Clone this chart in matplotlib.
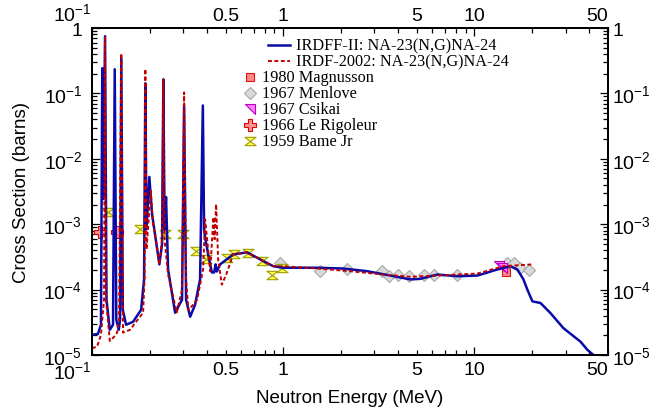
import matplotlib
matplotlib.use('Agg')
import matplotlib.pyplot as plt
from matplotlib.ticker import FixedLocator, FixedFormatter
from matplotlib.lines import Line2D
from matplotlib.path import Path

plt.rcParams['font.family'] = ['Liberation Sans', 'DejaVu Sans']
plt.rcParams['mathtext.fontset'] = 'custom'
plt.rcParams['mathtext.rm'] = 'Liberation Sans'
plt.rcParams['mathtext.default'] = 'regular'

# ---------------- data ----------------
irdff_e = [0.100, 0.1074, 0.1114, 0.1132, 0.1146, 0.1170, 0.1191, 0.1239, 0.1288, 0.1315,
           0.1340, 0.1380, 0.1402, 0.1423, 0.1449, 0.1507, 0.1640, 0.1807, 0.1872, 0.1901,
           0.1928, 0.1995, 0.2061, 0.2136, 0.2251, 0.2325, 0.2362, 0.2397, 0.2439, 0.2500,
           0.2721, 0.2958, 0.3032, 0.3105, 0.3261, 0.3461, 0.3675, 0.3800, 0.3857, 0.3905,
           0.4050, 0.4236, 0.4355, 0.4431, 0.4496, 0.4679, 0.5475, 0.6484, 0.7579, 0.8868,
           1.0, 1.507, 2.061, 2.753, 3.633, 4.623, 5.212, 6.402, 8.145, 10.37,
           13.19, 15.43, 16.79, 18.06, 18.93, 20.12, 22.17, 25.0, 29.2, 35.9,
           39.1, 42.0, 50.0]
irdff_xs = [2.03e-5, 2.10e-5, 2.90e-5, 0.243, 2.43e-3, 0.75, 7.0e-5, 2.43e-5, 2.90e-5, 0.234,
            3.45e-5, 2.43e-5, 3.45e-5, 0.345, 4.92e-5, 2.90e-5, 3.22e-5, 4.92e-5, 1.43e-4, 0.143,
            8.4e-4, 5.28e-3, 1.43e-3, 7.0e-4, 2.43e-4, 4.92e-4, 0.164, 8.4e-4, 2.60e-3, 2.03e-4,
            4.43e-5, 7.0e-5, 0.0654, 7.0e-5, 3.84e-5, 5.88e-5, 1.43e-4, 0.0654, 8.4e-4, 6.31e-4,
            3.45e-4, 1.83e-4, 1.83e-4, 2.43e-4, 1.89e-4, 2.43e-4, 3.45e-4, 3.71e-4, 2.90e-4, 2.28e-4,
            2.16e-4, 2.16e-4, 2.10e-4, 1.91e-4, 1.64e-4, 1.43e-4, 1.46e-4, 1.70e-4, 1.60e-4, 1.64e-4,
            2.03e-4, 2.28e-4, 2.03e-4, 1.43e-4, 1.0e-4, 6.61e-5, 6.24e-5, 4.38e-5, 2.58e-5, 1.60e-5,
            1.19e-5, 1.0e-5, 7.5e-6]

irdf_e = [0.100, 0.1062, 0.1114, 0.1156, 0.1170, 0.1184, 0.1239, 0.1303, 0.1352, 0.1385,
          0.1423, 0.1453, 0.1581, 0.1850, 0.1883, 0.1901, 0.1928, 0.2029, 0.2085, 0.2136,
          0.2251, 0.2325, 0.2362, 0.2397, 0.2500, 0.2776, 0.2958, 0.3032, 0.3105, 0.3193,
          0.3546, 0.3811, 0.3905, 0.4025, 0.4150, 0.4318, 0.4379, 0.4458, 0.4568, 0.4777,
          0.5033, 0.5475, 0.6484, 0.7579, 0.8868, 1.0, 1.507, 2.243, 3.339, 4.623,
          6.402, 10.37, 14.19, 20.12]
irdf_xs = [1.28e-5, 1.33e-5, 2.03e-5, 7.0e-5, 0.72, 7.0e-5, 1.64e-5, 1.89e-5, 2.18e-5, 3.45e-5,
           0.41, 2.20e-5, 2.43e-5, 4.43e-5, 1.43e-4, 0.236, 4.12e-4, 3.25e-3, 1.0e-3, 7.0e-4,
           2.43e-4, 5.88e-4, 0.164, 5.88e-4, 1.70e-4, 4.48e-5, 1.0e-4, 0.1036, 1.43e-4, 4.81e-5,
           7.0e-5, 2.03e-4, 1.19e-3, 4.92e-4, 1.91e-4, 1.28e-3, 5.88e-4, 2.03e-3, 2.90e-4, 1.19e-4,
           1.70e-4, 3.45e-4, 3.71e-4, 2.90e-4, 2.28e-4, 2.28e-4, 2.10e-4, 1.91e-4, 1.70e-4, 1.57e-4,
           1.64e-4, 1.76e-4, 2.28e-4, 2.43e-4]

magnusson_e = [14.7]
magnusson_xs = [1.83e-4]
menlove_e = [0.964, 1.562, 2.156, 3.286, 3.56, 4.01, 4.53, 5.43, 6.12, 8.11, 14.8, 16.06, 17.4, 19.24]
menlove_xs = [2.58e-4, 1.91e-4, 2.10e-4, 1.95e-4, 1.64e-4, 1.70e-4, 1.60e-4, 1.70e-4, 1.70e-4, 1.70e-4,
              2.51e-4, 2.51e-4, 2.16e-4, 1.98e-4]
csikai_e = [13.4, 14.0]
csikai_xs = [2.28e-4, 2.16e-4]
rigoleur_e = [0.1101, 0.1346]
rigoleur_xs = [7.5e-4, 7.5e-4]
bame_e = [0.1217, 0.178, 0.241, 0.301, 0.351, 0.394, 0.507, 0.554, 0.658, 0.773, 0.879, 0.984]
bame_xs = [1.51e-3, 8.4e-4, 7.0e-4, 7.0e-4, 3.88e-4, 2.90e-4, 3.07e-4, 3.45e-4, 3.67e-4, 2.72e-4, 1.70e-4, 2.16e-4]

x_major = [0.1, 1, 10]
x_major_labels = ['10$^{-1}$', '1', '10']
x_minor = [0.2, 0.3, 0.4, 0.5, 0.6, 0.7, 0.8, 0.9, 2, 3, 4, 5, 6, 7, 8, 9, 20, 30, 40, 50]
x_minor_labels = ['', '', '', '0.5', '', '', '', '', '', '', '', '5', '', '', '', '', '', '', '', '50']
y_major = [1e-5, 1e-4, 1e-3, 1e-2, 1e-1, 1]
y_major_labels = ['10$^{-5}$', '10$^{-4}$', '10$^{-3}$', '10$^{-2}$', '10$^{-1}$', '1']
y_minor = [m * 10.0 ** p for p in range(-5, 0) for m in range(2, 10)]

legend_labels = ['IRDFF-II: NA-23(N,G)NA-24', 'IRDF-2002: NA-23(N,G)NA-24',
                 '1980 Magnusson', '1967 Menlove', '1967 Csikai', '1966 Le Rigoleur', '1959 Bame Jr']

# ---------------- styles ----------------
blue = '#0a0aa8'
red = '#c00000'
hourglass = Path([(-1, 0.75), (1, 0.75), (-1, -0.75), (1, -0.75), (-1, 0.75)],
                 [Path.MOVETO, Path.LINETO, Path.LINETO, Path.LINETO, Path.CLOSEPOLY])
corner_tri = Path([(-1, 1), (1, 1), (1, -1), (-1, 1)],
                  [Path.MOVETO, Path.LINETO, Path.LINETO, Path.CLOSEPOLY])

marker_styles = [
    dict(marker='s', ms=5.5, mfc='#ff8a8a', mec='#e01010', mew=0.8),
    dict(marker='D', ms=6, mfc='#d9d9d9', mec='#a8a8a8', mew=0.8),
    dict(marker=corner_tri, ms=6.5, mfc='#ff80ff', mec='#c000c0', mew=0.8),
    dict(marker='P', ms=8, mfc='#ff9090', mec='#e00000', mew=0.8),
    dict(marker=hourglass, ms=8, mfc='#ffff50', mec='#a0a000', mew=0.8),
]

fig = plt.figure(figsize=(6.62, 4.14), dpi=100)
W, H = 662.0, 414.0
ax = fig.add_axes([92 / W, 1 - 356 / H, (608 - 92) / W, (356 - 29) / H])

datasets = [(magnusson_e, magnusson_xs), (menlove_e, menlove_xs), (csikai_e, csikai_xs),
            (rigoleur_e, rigoleur_xs), (bame_e, bame_xs)]
for (e, s), st in zip(datasets, marker_styles):
    ax.plot(e, s, linestyle='none', zorder=2, **st)

ax.plot(irdff_e, irdff_xs, color=blue, lw=1.8, zorder=3)
ax.plot(irdf_e, irdf_xs, color=red, lw=1.4, ls=(0, (2.0, 1.3)), zorder=4)

ax.set_xscale('log')
ax.set_yscale('log')
ax.set_xlim(0.1, 50)
ax.set_ylim(1e-5, 1)

tick_fs = 14


def setup_x(a):
    a.xaxis.set_major_locator(FixedLocator(x_major))
    a.xaxis.set_major_formatter(FixedFormatter(x_major_labels))
    a.xaxis.set_minor_locator(FixedLocator(x_minor))
    a.xaxis.set_minor_formatter(FixedFormatter(x_minor_labels))


def setup_y(a):
    a.yaxis.set_major_locator(FixedLocator(y_major))
    a.yaxis.set_major_formatter(FixedFormatter(y_major_labels))
    a.yaxis.set_minor_locator(FixedLocator(y_minor))
    a.yaxis.set_minor_formatter(FixedFormatter([''] * len(y_minor)))


setup_x(ax)
setup_y(ax)
ax.tick_params(which='both', direction='in', top=False, right=False, labelsize=tick_fs, width=0.9)
ax.tick_params(which='major', length=6)
ax.tick_params(which='minor', length=3.5)
ax.tick_params(axis='x', which='both', pad=4)
ax.tick_params(axis='y', which='both', pad=7)

axt = ax.twiny()
axt.set_xscale('log')
axt.set_xlim(0.1, 50)
setup_x(axt)
axt.tick_params(which='both', direction='in', labelsize=tick_fs, width=0.9, pad=3)
axt.tick_params(which='major', length=6)
axt.tick_params(which='minor', length=3.5)

axr = ax.twinx()
axr.set_yscale('log')
axr.set_ylim(1e-5, 1)
setup_y(axr)
axr.tick_params(which='both', direction='in', labelsize=tick_fs, width=0.9, pad=3)
axr.tick_params(which='major', length=6)
axr.tick_params(which='minor', length=3.5)

for a in (ax, axt, axr):
    for sp in a.spines.values():
        sp.set_linewidth(1.4)

ax.set_xlabel('Neutron Energy (MeV)', fontsize=13.5)
ax.xaxis.set_label_coords(0.5, -0.105)
ax.set_ylabel('Cross Section (barns)', fontsize=13.5)
ax.yaxis.set_label_coords(-0.12, 0.5)

# end labels of the energy axis sit to the left of their ticks, as in the original
fig.canvas.draw()
for a, lab_attr in ((ax, 'label1'), (axt, 'label2')):
    for t in a.xaxis.get_major_ticks():
        if abs(t.get_loc() - 0.1) < 1e-9:
            getattr(t, lab_attr).set_horizontalalignment('right')
            getattr(t, lab_attr).set_x(0.1)
    for t in a.xaxis.get_minor_ticks():
        if abs(t.get_loc() - 50) < 1e-9:
            getattr(t, lab_attr).set_horizontalalignment('right')

# ---------------- legend (drawn by hand to match layout) ----------------
def fx(px):
    return px / W


def fy(py):
    return 1 - py / H


leg_font = dict(family=['Liberation Serif', 'DejaVu Serif'], size=11.7)
fig.add_artist(Line2D([fx(268), fx(290)], [fy(46), fy(46)], color=blue, lw=1.8))
fig.add_artist(Line2D([fx(268), fx(290)], [fy(62), fy(62)], color=red, lw=1.4, ls=(0, (2.0, 1.3))))
fig.text(fx(296), fy(46), legend_labels[0], va='center', ha='left', **leg_font)
fig.text(fx(296), fy(62), legend_labels[1], va='center', ha='left', **leg_font)
for i, st in enumerate(marker_styles):
    yy = 78 + 16 * i
    fig.add_artist(Line2D([fx(250)], [fy(yy)], linestyle='none', **st))
    fig.text(fx(262), fy(yy), legend_labels[2 + i], va='center', ha='left', **leg_font)

fig.savefig('out.png', dpi=100)
